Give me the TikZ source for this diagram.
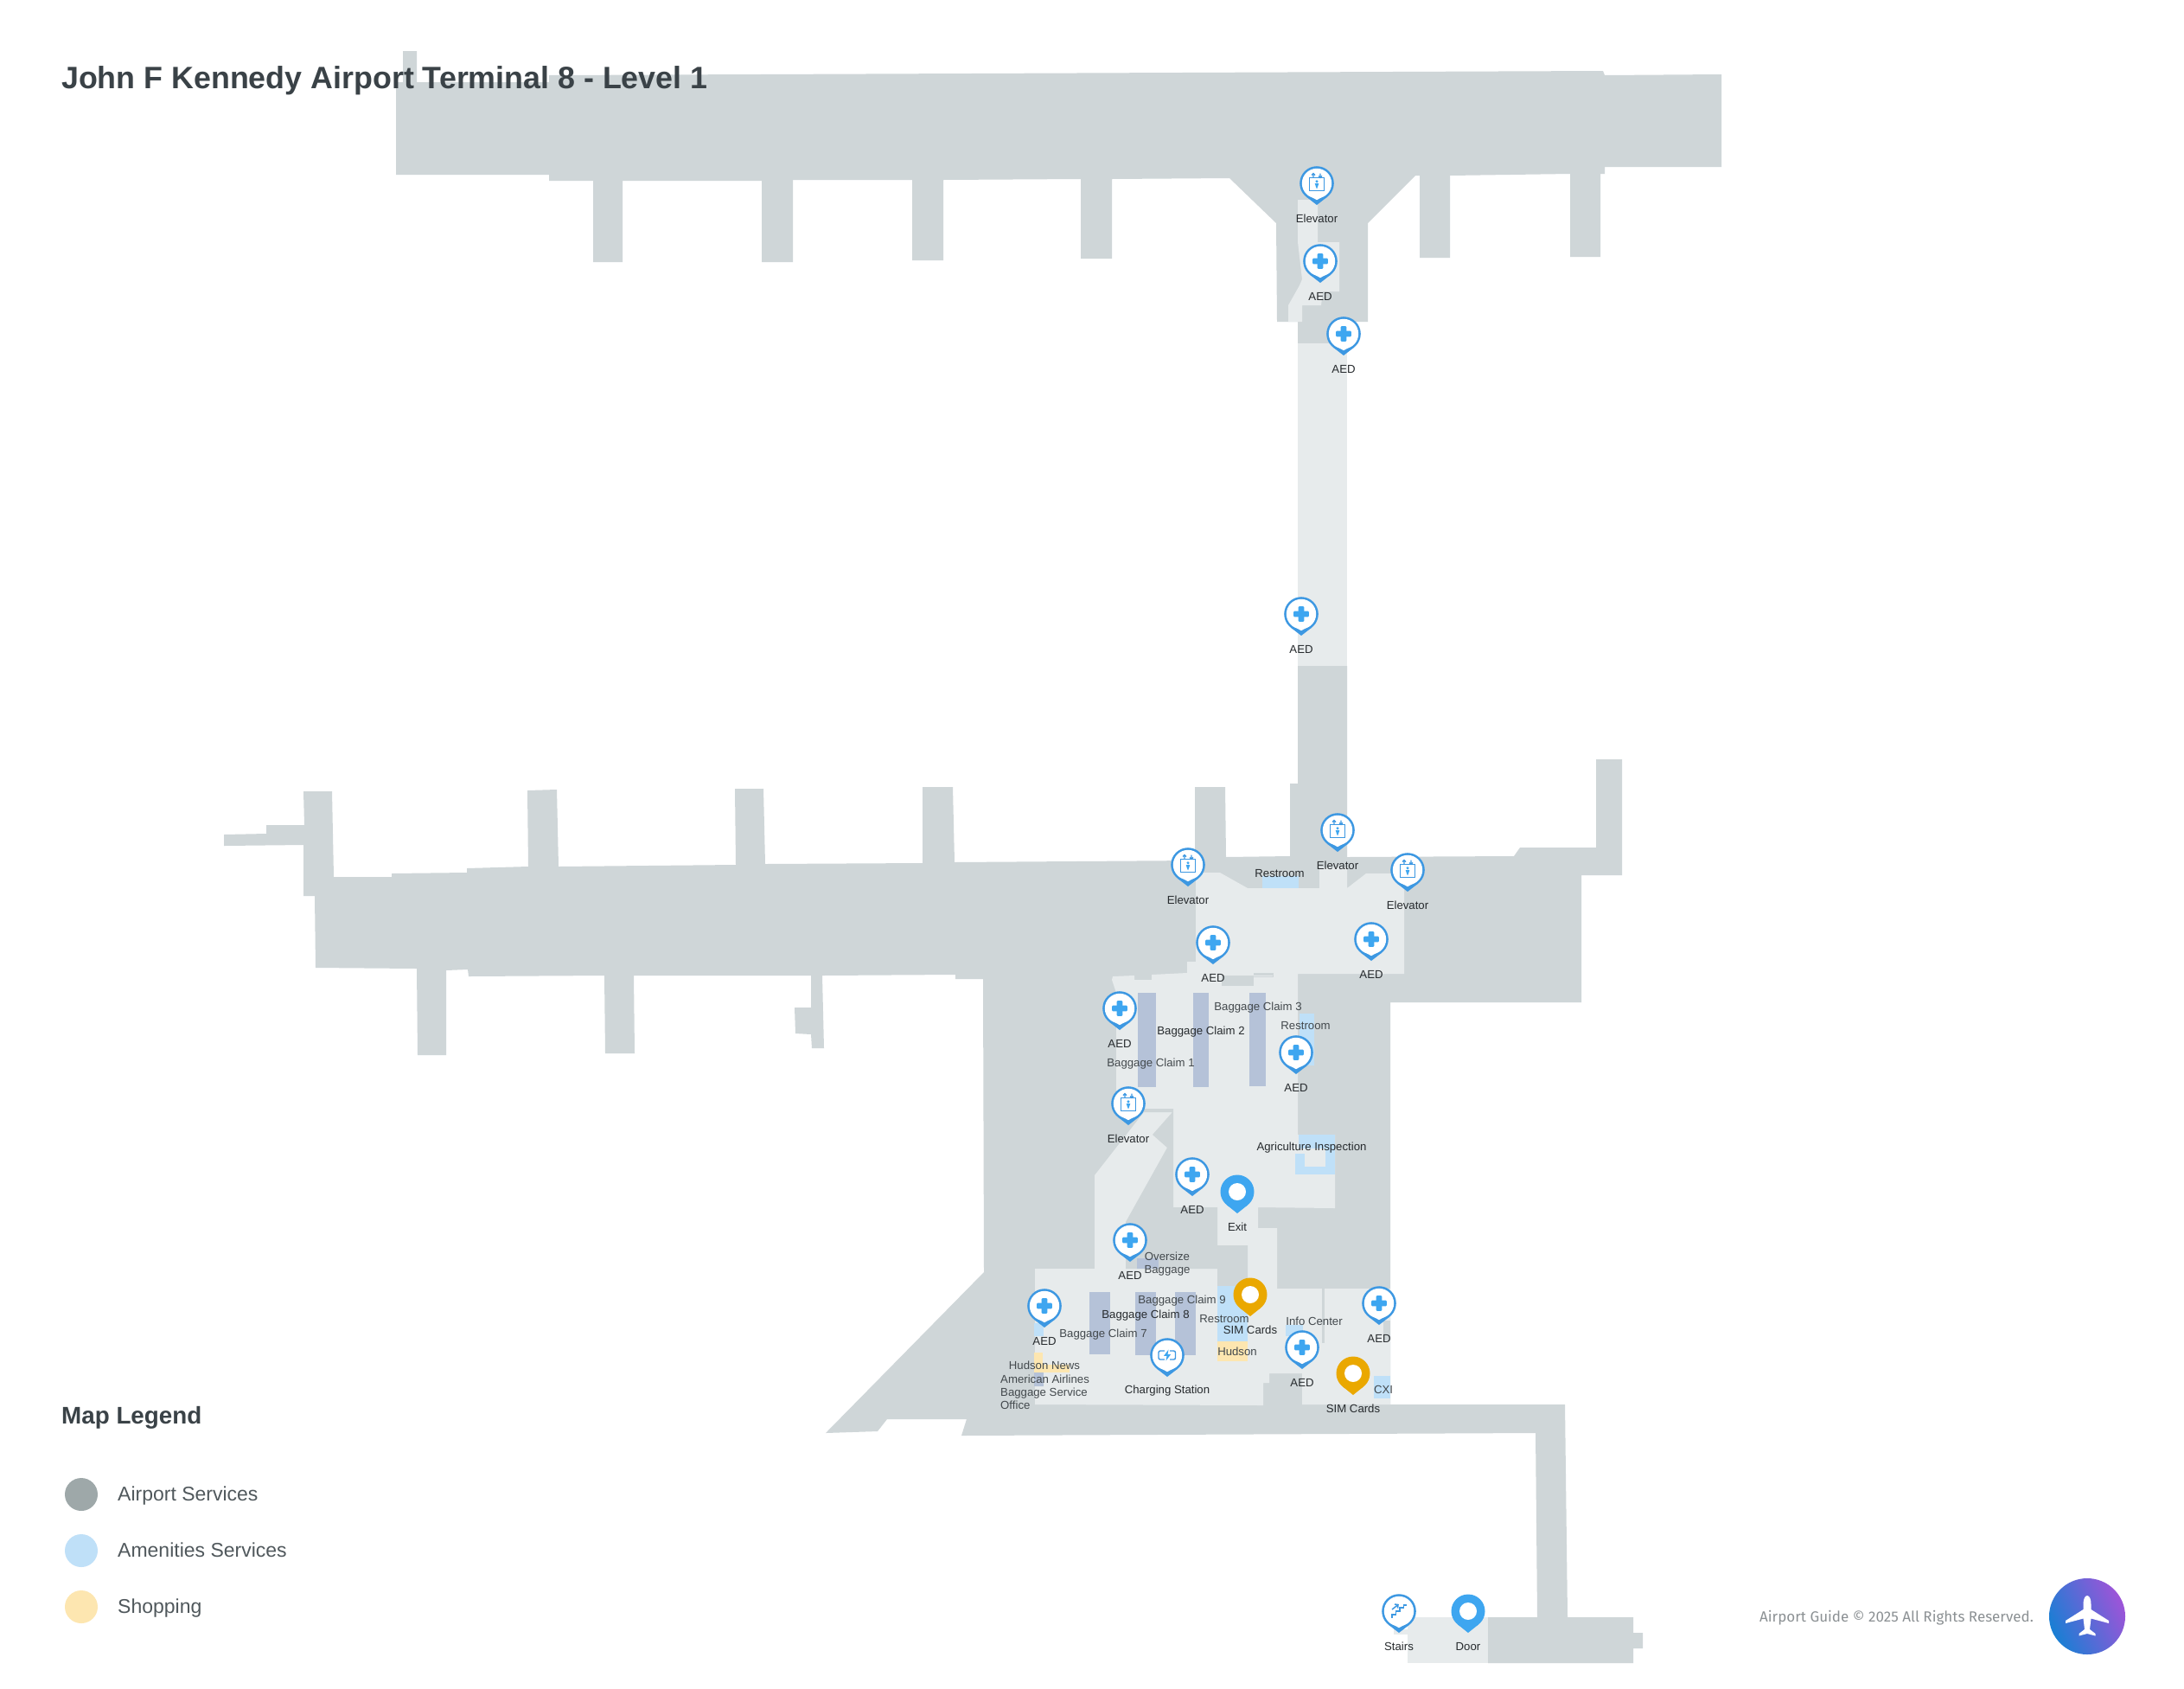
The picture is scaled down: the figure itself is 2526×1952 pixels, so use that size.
\documentclass[tikz,border=0pt]{standalone}
\usepackage{fontspec}
\setmainfont{Liberation Sans}
\newfontfamily\footf{Fira Sans}
\definecolor{walldark}{HTML}{CFD6D8}
\definecolor{floorlight}{HTML}{E7EBEC}
\definecolor{amen}{HTML}{BFE0F8}
\definecolor{shop}{HTML}{FDE6B0}
\definecolor{belt}{HTML}{B5C2D8}
\definecolor{pinb}{HTML}{3D98E2}
\definecolor{pinc}{HTML}{3EA6F0}
\definecolor{piny}{HTML}{EAA800}
\definecolor{titlec}{HTML}{3A4247}
\definecolor{labc}{HTML}{272B2E}
\definecolor{labg}{HTML}{43494D}
\definecolor{legc}{HTML}{50585C}
\definecolor{legg}{HTML}{9EA8A9}
\definecolor{footc}{HTML}{8C9194}
\definecolor{gradb}{HTML}{187FD4}
\definecolor{gradp}{HTML}{9E54D8}
\tikzset{
 plabel/.style={inner sep=0pt,text=labc,font=\fontsize{13.2}{15}\selectfont},
 alabel/.style={inner sep=0pt,text=labg,font=\fontsize{13.2}{15}\selectfont},
 dlabel/.style={inner sep=0pt,text=labc,font=\fontsize{13.2}{15}\selectfont},
 legtext/.style={inner sep=0pt,anchor=base west,text=legc,font=\fontsize{23}{26}\selectfont},
 icon/.style={draw=pinb,line width=1.4pt,line join=miter},
}
\newcommand{\crossicon}{\fill[pinc,rounded corners=1pt] (-3.3,-8.8) rectangle (3.3,8.8);\fill[pinc,rounded corners=1pt] (-8.8,-3.3) rectangle (8.8,3.3);}
\newcommand{\elevicon}{%
 \draw[icon] (-8.7,-6.5) rectangle (8.7,8.7);
 \draw[icon,line width=1.2pt] (-4,-6.5) -- (-4,-11.5) (-6,-9.5) -- (-4,-11.5) -- (-2,-9.5);
 \draw[icon,line width=1.2pt] (4,-11.5) -- (4,-6.5) (2,-8.5) -- (4,-6.5) -- (6,-8.5);
 \fill[pinc] (0,-2.2) circle[radius=1.7];
 \fill[pinc] (-2.3,0) -- (2.3,0) -- (1.2,3.5) -- (0,6.5) -- (-1.2,3.5) -- cycle;}
\newcommand{\chargeicon}{%
 \draw[icon,rounded corners=2pt] (-10,-5) rectangle (9.5,5);
 \fill[white] (-3,-7) rectangle (3,7);
 \fill[pinc] (1.5,-6.5) -- (-4,0.8) -- (-0.5,0.8) -- (-1.5,6.5) -- (4,-0.8) -- (0.5,-0.8) -- cycle;}
\newcommand{\stairicon}{%
 \draw[icon,line width=1.7pt] (-8,7.5) -- (-8,4) -- (-3.5,4) -- (-3.5,0) -- (1,0) -- (1,-4) -- (5.5,-4) -- (5.5,-7) -- (9,-7);
 \draw[icon,line width=1.5pt] (-8,-2) -- (-1,-7.5) (-5,-8) -- (-1,-7.5) -- (-1.5,-3.5);}
\newcommand{\ringpin}[5]{%
 \begin{scope}[shift={(#2,#3)}]
  \fill[pinb] (0,0) circle[radius=19.8];
  \fill[pinb] (-12.4,15.4) -- (12.4,15.4) -- (0,25) -- cycle;
  \fill[white] (0,0) circle[radius=17.2];
  \fill[white] (-10.7,13.4) -- (10.7,13.4) -- (0,19.2) -- cycle;
  #5
 \end{scope}
 \node[plabel] (#1) at (#2,#3+41) {#4};}
\newcommand{\solidpin}[6]{%
 \begin{scope}[shift={(#2,#3)}]
  \fill[#5] (0,0) circle[radius=19.5];
  \fill[#5] (-12.2,15.2) -- (12.2,15.2) -- (0,25) -- cycle;
  \fill[white] (0,0) circle[radius=#6];
 \end{scope}
 \node[plabel] (#1) at (#2,#3+41) {#4};}
\begin{document}
\begin{tikzpicture}[x=1pt,y=-1pt]
\useasboundingbox (0,0) rectangle (2526,1952);
\fill[white] (0,0) rectangle (2526,1952);
% upper concourse
\fill[walldark] (458,95) -- (466,95) -- (466,59) -- (482,59) -- (482,95) -- (635,95) -- (635,87) -- (1854,82) -- (1856,87) -- (1991,86) -- (1991,193) -- (1856,193) -- (1856,201) -- (1851,201) -- (1851,297) -- (1816,297) -- (1816,201) -- (1677,203) -- (1677,298) -- (1642,298) -- (1642,203) -- (1637,203) -- (1582,258) -- (1582,372) -- (1558,372) -- (1558,397) -- (1501,397) -- (1501,372) -- (1477,372) -- (1476,258) -- (1422,206) -- (1286,207) -- (1286,299) -- (1250,299) -- (1250,207) -- (1091,208) -- (1091,301) -- (1055,301) -- (1055,208) -- (917,208) -- (917,303) -- (881,303) -- (881,209) -- (720,209) -- (720,303) -- (686,303) -- (686,209) -- (635,209) -- (635,202) -- (458,202) -- cycle;
% lower concourse
\fill[walldark] (259,965) -- (308,964) -- (308,954) -- (352,954) -- (351,915) -- (384,915) -- (386,1014) -- (453,1014) -- (453,1010) -- (540,1009) -- (540,1004) -- (611,1002) -- (610,914) -- (644,913) -- (646,1002) -- (851,1000) -- (850,912) -- (883,912) -- (885,999) -- (1067,998) -- (1067,910) -- (1102,910) -- (1104,997) -- (1382,995) -- (1382,910) -- (1417,910) -- (1418,991) -- (1492,990) -- (1492,906) -- (1501,906) -- (1501,770) -- (1558,770) -- (1558,991) -- (1751,990) -- (1758,980) -- (1846,980) -- (1846,878) -- (1876,878) -- (1876,1012) -- (1829,1012) -- (1829,1159) -- (1608,1159) -- (1608,1624) -- (1810,1624) -- (1813,1870) -- (1889,1870) -- (1889,1888) -- (1900,1888) -- (1900,1906) -- (1889,1906) -- (1889,1923) -- (1721,1923) -- (1721,1870) -- (1778,1870) -- (1776,1657) -- (1112,1660) -- (1118,1641) -- (1026,1641) -- (1015,1655) -- (955,1657) -- (1138,1471) -- (1137,1132) -- (1105,1132) -- (1105,1127) -- (951,1128) -- (953,1212) -- (939,1212) -- (938,1196) -- (920,1195) -- (919,1165) -- (938,1165) -- (938,1128) -- (733,1128) -- (734,1218) -- (700,1218) -- (699,1128) -- (542,1129) -- (541,1121) -- (516,1122) -- (516,1220) -- (483,1220) -- (482,1120) -- (365,1119) -- (364,1036) -- (351,1036) -- (351,977) -- (259,978) -- cycle;
% light floors
\fill[floorlight] (1501,231) -- (1524,231) -- (1524,280) -- (1549,280) -- (1549,337) -- (1530,337) -- (1528,353) -- (1506,353) -- (1506,372) -- (1490,372) -- (1490,353) -- (1503,330) -- (1506,323) -- (1501,280) -- cycle;
\fill[floorlight] (1501,397) rectangle (1558,770);
\fill[floorlight] (1291,1282) -- (1323,1282) -- (1323,1286) -- (1266,1359) -- (1266,1467) -- (1197,1467) -- (1197,1624) -- (1461,1625) -- (1461,1599) -- (1468,1599) -- (1468,1588) -- (1506,1588) -- (1506,1624) -- (1608,1624) -- (1608,1490) -- (1477,1490) -- (1477,1420) -- (1455,1420) -- (1455,1396) -- (1544,1397) -- (1544,1312) -- (1501,1312) -- (1501,1126) -- (1624,1126) -- (1624,1010) -- (1580,1010) -- (1558,1027) -- (1558,1003) -- (1526,1003) -- (1526,1027) -- (1443,1027) -- (1411,1009) -- (1383,1009) -- (1383,1112) -- (1373,1112) -- (1373,1125) -- (1332,1127) -- (1332,1133) -- (1312,1133) -- (1312,1128) -- (1287,1129) -- (1286,1133) -- (1291,1148) -- cycle;
\fill[floorlight] (1628,1870) rectangle (1721,1923);
\fill[floorlight] (1612,1884) rectangle (1628,1890);
% dark holes
\fill[walldark] (1323,1282) -- (1357,1282) -- (1357,1396) -- (1408,1396) -- (1408,1440) -- (1443,1440) -- (1443,1487) -- (1408,1487) -- (1408,1467) -- (1302,1467) -- (1302,1413) -- (1350,1327) -- (1333,1312) -- (1356,1286) -- (1323,1286) -- cycle;
\fill[walldark] (1413,1128) rectangle (1450,1140);
\fill[walldark] (1450,1125) rectangle (1473,1130);
\fill[floorlight] (1450,1127.5) rectangle (1472,1128.5);
\fill[walldark] (1600,1527) rectangle (1608,1550);
\fill[walldark] (1529,1490) rectangle (1532,1553);
% amenities and shops
\fill[amen] (1460,1013) rectangle (1502,1027);
\fill[amen] (1503,1172) rectangle (1520,1232);
\fill[amen] (1502,1312) rectangle (1544,1358);
\fill[amen] (1498,1334) rectangle (1502,1358);
\fill[floorlight] (1502,1328) rectangle (1509,1334);
\fill[floorlight] (1509,1328) rectangle (1533,1349);
\fill[amen] (1408,1487) rectangle (1443,1551);
\fill[shop] (1408,1551) rectangle (1443,1574);
\fill[amen] (1487,1532) rectangle (1507,1545);
\fill[amen] (1588.5,1591) rectangle (1608,1617);
\fill[amen] (1196,1530) rectangle (1207,1545);
\fill[shop] (1196,1564) rectangle (1206,1587);
\fill[shop] (1196,1578) rectangle (1237,1587);
\fill[belt] (1196,1587) rectangle (1207,1603);
% baggage belts
\fill[belt] (1316,1148) rectangle (1337,1257);
\fill[belt] (1380,1148) rectangle (1398,1257);
\fill[belt] (1445,1148) rectangle (1464,1256);
\fill[belt] (1260,1494) rectangle (1284,1566);
\fill[belt] (1313,1494) rectangle (1337,1567);
\fill[belt] (1359,1494) rectangle (1383,1567);
\fill[belt] (1315,1455) rectangle (1340,1467);
% area labels
\node[dlabel] (lrest1) at (1480,1010) {Restroom};
\node[alabel] (lbc3) at (1455,1165.5) {Baggage Claim 3};
\node[alabel] (lrest2) at (1510,1186) {Restroom};
\node[dlabel] (lbc2) at (1389,1193.5) {Baggage Claim 2};
\node[alabel] (lbc1) at (1331,1230.5) {Baggage Claim 1};
\node[dlabel] (lagri) at (1517,1327) {Agriculture Inspection};
\node[alabel,align=center] (lover) at (1350,1462) {Oversize\\Baggage};
\node[alabel] (lbc9) at (1367,1504.5) {Baggage Claim 9};
\node[dlabel] (lbc8) at (1325,1521.5) {Baggage Claim 8};
\node[alabel] (lbc7) at (1276,1543) {Baggage Claim 7};
\node[alabel] (lrest3) at (1416,1524.5) {Restroom};
\node[alabel] (lhud) at (1431,1563) {Hudson};
\node[alabel] (linfo) at (1520,1527.5) {Info Center};
\node[alabel] (lcxi) at (1600,1606.5) {CXI};
\node[alabel] (lhn) at (1208,1578.5) {Hudson News};
\node[alabel,align=left,anchor=north west] (laa) at (1157,1589.5) {American Airlines\\Baggage Service\\Office};
% pins
\ringpin{p1}{1523}{212}{Elevator}{\elevicon}
\ringpin{p2}{1527}{302}{AED}{\crossicon}
\ringpin{p3}{1554}{386}{AED}{\crossicon}
\ringpin{p4}{1505}{710}{AED}{\crossicon}
\ringpin{p5}{1547}{960}{Elevator}{\elevicon}
\ringpin{p6}{1374}{1000}{Elevator}{\elevicon}
\ringpin{p7}{1628}{1006}{Elevator}{\elevicon}
\ringpin{p8}{1403}{1090}{AED}{\crossicon}
\ringpin{p9}{1586}{1086}{AED}{\crossicon}
\ringpin{p10}{1295}{1166}{AED}{\crossicon}
\ringpin{p11}{1499}{1217}{AED}{\crossicon}
\ringpin{p12}{1305}{1276}{Elevator}{\elevicon}
\ringpin{p13}{1379}{1358}{AED}{\crossicon}
\solidpin{p14}{1431}{1378}{Exit}{pinc}{10}
\ringpin{p15}{1307}{1434}{AED}{\crossicon}
\solidpin{p16}{1446}{1497}{SIM Cards}{piny}{10}
\ringpin{p17}{1208}{1510}{AED}{\crossicon}
\ringpin{p18}{1350}{1567}{Charging Station}{\chargeicon}
\ringpin{p19}{1506}{1558}{AED}{\crossicon}
\ringpin{p20}{1595}{1507}{AED}{\crossicon}
\solidpin{p21}{1565}{1588}{SIM Cards}{piny}{10}
\ringpin{p22}{1618}{1863}{Stairs}{\stairicon}
\solidpin{p23}{1698}{1863}{Door}{pinc}{10}
% title and legend
\node[inner sep=0pt,anchor=base west,text=titlec,font=\fontsize{35.8}{40}\selectfont\bfseries] (title) at (71,102) {John F Kennedy Airport Terminal 8 - Level 1};
\node[inner sep=0pt,anchor=base west,text=titlec,font=\fontsize{27.8}{32}\selectfont\bfseries] (legend) at (71,1646) {Map Legend};
\fill[legg] (94,1728) circle[radius=19];
\fill[amen] (94,1793) circle[radius=19];
\fill[shop] (94,1858) circle[radius=19];
\node[legtext] (leg1) at (136,1735) {Airport Services};
\node[legtext] (leg2) at (136,1800) {Amenities Services};
\node[legtext] (leg3) at (136,1865) {Shopping};
% footer
\node[inner sep=0pt,anchor=east,text=footc,font=\footf\fontsize{17}{20}\selectfont] (copy) at (2352,1871) {Airport Guide © 2025 All Rights Reserved.};
\shade[left color=gradb,right color=gradp,shading angle=115] (2414,1869) circle[radius=44];
\fill[white] (2414,1845) .. controls (2417,1845) and (2418.5,1850) .. (2418.5,1855) -- (2418.5,1861) -- (2439,1874) -- (2439,1877) -- (2418.5,1871.5) -- (2417,1884) -- (2423.5,1889) -- (2423.5,1891.5) -- (2414,1889) -- (2404.5,1891.5) -- (2404.5,1889) -- (2411,1884) -- (2409.5,1871.5) -- (2389,1877) -- (2389,1874) -- (2409.5,1861) -- (2409.5,1855) .. controls (2409.5,1850) and (2411,1845) .. (2414,1845) -- cycle;
\end{tikzpicture}
\end{document}
